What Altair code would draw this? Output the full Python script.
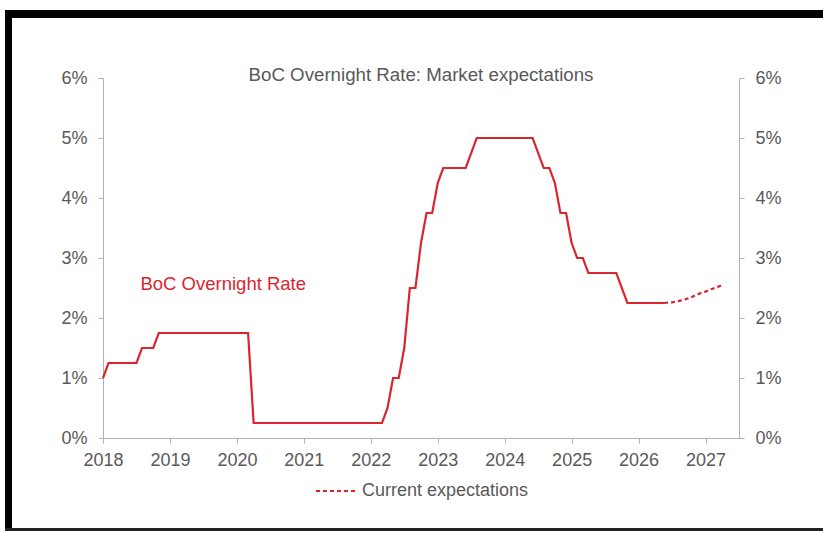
import altair as alt
import pandas as pd

# ---- data ----
solid_year = [2018.0, 2018.083, 2018.5, 2018.583, 2018.75, 2018.833, 2020.167, 2020.25,
              2022.167, 2022.25, 2022.333, 2022.417, 2022.5, 2022.583, 2022.667, 2022.75,
              2022.833, 2022.917, 2023.0, 2023.083, 2023.417, 2023.583, 2024.417, 2024.583,
              2024.667, 2024.75, 2024.833, 2024.917, 2025.0, 2025.083, 2025.167, 2025.25,
              2025.667, 2025.833, 2026.38]
solid_rate = [1.0, 1.25, 1.25, 1.5, 1.5, 1.75, 1.75, 0.25,
              0.25, 0.5, 1.0, 1.0, 1.5, 2.5, 2.5, 3.25,
              3.75, 3.75, 4.25, 4.5, 4.5, 5.0, 5.0, 4.5,
              4.5, 4.25, 3.75, 3.75, 3.25, 3.0, 3.0, 2.75,
              2.75, 2.25, 2.25]
exp_year = [2026.38, 2026.5, 2026.583, 2026.667, 2026.75, 2026.833, 2026.917,
            2027.0, 2027.083, 2027.167, 2027.25]
exp_rate = [2.25, 2.26, 2.28, 2.30, 2.33, 2.37, 2.41, 2.44, 2.48, 2.51, 2.55]

series_names = ["BoC Overnight Rate", "Current expectations"]
x_ticks = list(range(2018, 2028))
y_ticks = [0, 1, 2, 3, 4, 5, 6]
title_text = ["BoC Overnight Rate: Market expectations"]
annot_label = ["BoC Overnight Rate"]
annot_year = [2018.56]
annot_rate = [2.46]

RED = "#d9262e"
GRAY = "#595959"
AXIS = "#b3b3b3"
FONT = "Liberation Sans"

df = pd.DataFrame({
    "year": solid_year + exp_year,
    "rate": solid_rate + exp_rate,
    "series": [series_names[0]] * len(solid_year) + [series_names[1]] * len(exp_year),
})

x_scale = alt.Scale(domain=[2018, 2027.5], nice=False, zero=False)
y_scale = alt.Scale(domain=[0, 6], nice=False)

axis_style = dict(grid=False, tickSize=5, labelFontSize=18, labelColor=GRAY, labelFont=FONT,
                  domainColor=AXIS, tickColor=AXIS, domainWidth=1, tickWidth=1, title=None)

x_axis = alt.Axis(values=x_ticks, format="d", labelPadding=8, labelFlush=False,
                  orient="bottom", **axis_style)

lines = alt.Chart(df).mark_line(color=RED, strokeWidth=2.2).encode(
    x=alt.X("year:Q", scale=x_scale, axis=x_axis),
    y=alt.Y("rate:Q", scale=y_scale,
            axis=alt.Axis(orient="left", values=y_ticks, labelExpr="datum.value + '%'",
                          labelPadding=11, **axis_style)),
    strokeDash=alt.StrokeDash(
        "series:N",
        scale=alt.Scale(domain=series_names, range=[[1, 0], [4, 3]]),
        legend=alt.Legend(values=[series_names[1]], title=None, orient="none",
                          legendX=212, legendY=391, symbolType="stroke", symbolSize=1764,
                          symbolStrokeWidth=2, symbolStrokeColor=RED, labelFontSize=18,
                          labelColor=GRAY, labelFont=FONT, labelOffset=3, padding=0,
                          labelLimit=0, direction="horizontal"),
    ),
    detail="series:N",
    order="year:Q",
)

annot = alt.Chart(pd.DataFrame({"year": annot_year, "rate": annot_rate, "label": annot_label})).mark_text(
    color=RED, fontSize=18.5, font=FONT, align="left", baseline="alphabetic"
).encode(
    x=alt.X("year:Q", scale=x_scale, axis=x_axis),
    y=alt.Y("rate:Q", scale=y_scale,
            axis=alt.Axis(orient="right", values=y_ticks, labelExpr="datum.value + '%'",
                          labelPadding=11, **axis_style)),
    text="label:N",
)

title = alt.Chart(pd.DataFrame({"t": title_text})).mark_text(
    color=GRAY, fontSize=18.7, font=FONT, align="center", baseline="alphabetic"
).encode(x=alt.value(318), y=alt.value(3), text="t:N")

one = pd.DataFrame({"k": [0]})
frame_top = alt.Chart(one).mark_rect(color="#000000").encode(
    x=alt.value(-98), x2=alt.value(730), y=alt.value(-68), y2=alt.value(-60))
frame_left = alt.Chart(one).mark_rect(color="#000000").encode(
    x=alt.value(-98), x2=alt.value(-91), y=alt.value(-68), y2=alt.value(453))
frame_bottom = alt.Chart(one).mark_rect(color="#222222").encode(
    x=alt.value(-98), x2=alt.value(730), y=alt.value(450), y2=alt.value(453))

chart = alt.layer(frame_top, frame_left, frame_bottom, lines, annot, title).resolve_scale(
    y="independent"
).properties(
    width=636, height=360,
    autosize=alt.AutoSizeParams(type="none"),
    padding={"left": 103, "top": 78, "right": 84, "bottom": 95},
    background="white",
).configure_view(stroke=None)

chart.save("out.html", embed_options={"renderer": "svg", "actions": False})
